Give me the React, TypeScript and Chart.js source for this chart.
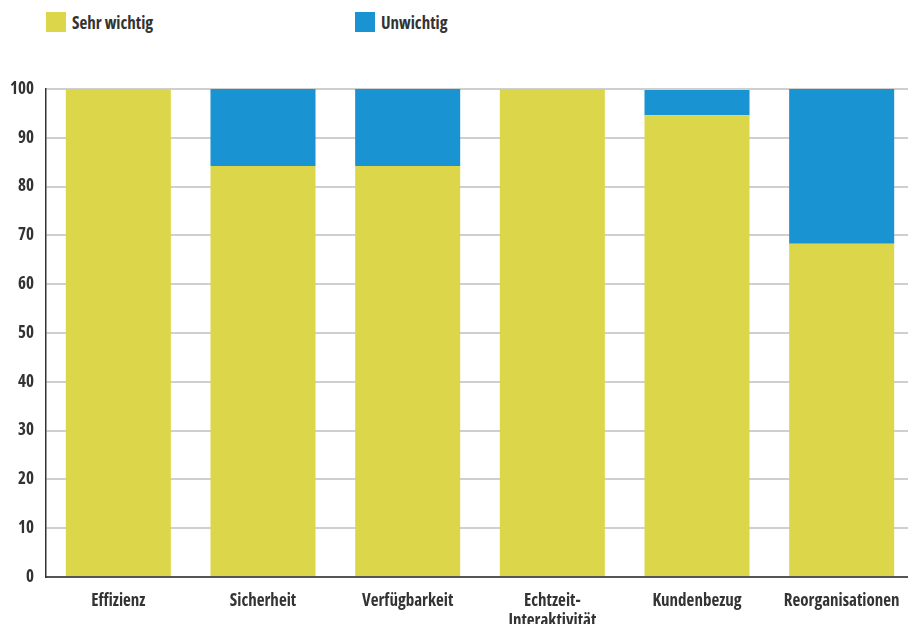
import React, { useEffect, useRef } from "react";
import { Chart, registerables } from "chart.js";

Chart.register(...registerables);

const categories: (string | string[])[] = [
  "Effizienz",
  "Sicherheit",
  "Verfügbarkeit",
  ["Echtzeit-", "Interaktivität"],
  "Kundenbezug",
  "Reorganisationen",
];
const sehrWichtig = [100, 84.2, 84.2, 100, 94.6, 68.3];
const unwichtig = [0, 15.8, 15.8, 0, 5.2, 31.7];
const yTicks = [0, 10, 20, 30, 40, 50, 60, 70, 80, 90, 100];

const YELLOW = "#DCD74A";
const BLUE = "#1993D1";
const TEXT = "#333333";
const FONT = "'Open Sans', sans-serif";

export default function App() {
  const ref = useRef<HTMLCanvasElement | null>(null);

  useEffect(() => {
    document.body.style.margin = "0";
    document.body.style.overflow = "hidden";
    const ctx = ref.current;
    if (!ctx) return;
    const chart = new Chart(ctx, {
      type: "bar",
      data: {
        labels: categories,
        datasets: [
          {
            label: "Sehr wichtig",
            data: sehrWichtig,
            backgroundColor: YELLOW,
            borderWidth: 0,
            categoryPercentage: 0.726,
            barPercentage: 1,
          },
          {
            label: "Unwichtig",
            data: unwichtig,
            backgroundColor: BLUE,
            borderWidth: 0,
            categoryPercentage: 0.726,
            barPercentage: 1,
          },
        ],
      },
      options: {
        animation: false,
        responsive: false,
        maintainAspectRatio: false,
        layout: { padding: { top: 89, left: 0, right: 0, bottom: 0 } },
        plugins: {
          legend: { display: false },
          tooltip: { enabled: false },
        },
        scales: {
          x: {
            stacked: true,
            grid: { display: false, drawTicks: false },
            border: { display: true, color: "#555555", width: 2 },
            ticks: {
              color: TEXT,
              padding: 14,
              maxRotation: 0,
              autoSkip: false,
              font: { family: FONT, size: 17, weight: "bold condensed" as any, lineHeight: 1.18 },
            },
            afterFit: (s: any) => {
              s.height = 47;
            },
          },
          y: {
            stacked: true,
            min: 0,
            max: 100,
            afterBuildTicks: (s: any) => {
              s.ticks = yTicks.map((v) => ({ value: v }));
            },
            grid: { color: "#cfcfcf", lineWidth: 2, drawTicks: false },
            border: { display: true, color: "#333333", width: 1.5 },
            ticks: {
              color: TEXT,
              padding: 12,
              font: { family: FONT, size: 17, weight: "bold condensed" as any },
            },
            afterFit: (s: any) => {
              s.width = 46;
            },
          },
        },
      },
    });
    return () => chart.destroy();
  }, []);

  const legendText: React.CSSProperties = {
    position: "absolute",
    top: 13,
    lineHeight: "20px",
    fontFamily: FONT,
    fontWeight: "bold",
    fontStretch: "condensed",
    fontSize: 17,
    color: TEXT,
  };

  return (
    <div style={{ position: "relative", width: 908, height: 624, overflow: "hidden", background: "#fff" }}>
      <div style={{ position: "absolute", left: 46, top: 12, width: 20, height: 20, background: YELLOW }} />
      <div style={{ ...legendText, left: 72 }}>Sehr wichtig</div>
      <div style={{ position: "absolute", left: 355, top: 12, width: 20, height: 20, background: BLUE }} />
      <div style={{ ...legendText, left: 381 }}>Unwichtig</div>
      <canvas
        ref={ref}
        width={914}
        height={624}
        style={{ position: "absolute", left: 0, top: 0, width: 914, height: 624 }}
      />
    </div>
  );
}
